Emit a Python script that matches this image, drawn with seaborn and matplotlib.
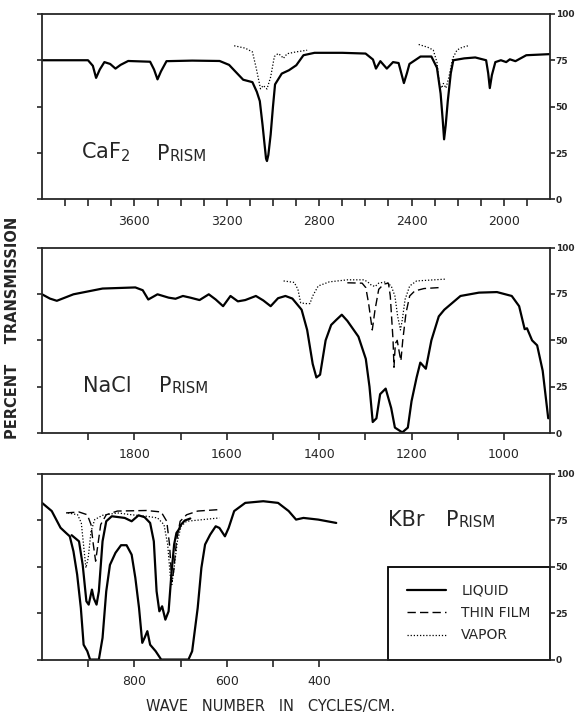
import pandas as pd
import matplotlib
matplotlib.use("Agg")
import matplotlib.pyplot as plt
from matplotlib.patches import Rectangle
from matplotlib.lines import Line2D
import seaborn as sns

# ---- CaF2 prism region ----
caf2_liq_wn = [4000, 3801, 3780, 3766, 3750, 3730, 3705, 3682, 3660, 3627, 3532, 3515, 3500, 3485,
               3461, 3350, 3231, 3190, 3168, 3129, 3089, 3070, 3057, 3045, 3038, 3030, 3026, 3020,
               3010, 3000, 2991, 2962, 2931, 2899, 2868, 2820, 2700, 2599, 2567, 2554, 2535, 2507,
               2480, 2456, 2440, 2433, 2420, 2409, 2361, 2314, 2290, 2274, 2265, 2259, 2252, 2243,
               2230, 2219, 2172, 2124, 2077, 2068, 2061, 2052, 2037, 2013, 1990, 1974, 1950, 1903, 1800]
caf2_liq_t = [75, 75, 72, 65.5, 70, 74, 73, 70.5, 72.5, 74.6, 74.2, 70, 64.7, 69,
              74.5, 74.8, 74.6, 72.5, 69.6, 64.5, 63.2, 58, 53, 40, 31.5, 22, 20.7, 24,
              35, 50, 62, 67.8, 69.6, 72.3, 77.7, 79, 79, 78.6, 75.4, 70.5, 74.5, 70.5,
              74, 73.5, 66, 62.7, 68, 73, 77, 77, 71, 57, 43, 32.4, 40, 53,
              68, 75, 76, 76.5, 75, 68, 60, 67, 74, 75, 74, 75.5, 74.5, 77.7, 78.3]
caf2_vap1_wn = [3168, 3120, 3089, 3073, 3054, 3042, 3026, 3010, 2994, 2978, 2965, 2955, 2939, 2900, 2852]
caf2_vap1_t = [82.8, 81.5, 79.5, 71, 59.6, 61.4, 59.5, 66, 77, 78.6, 77.5, 76, 78.5, 79.5, 80.4]
caf2_vap2_wn = [2369, 2330, 2306, 2290, 2279, 2269, 2262, 2251, 2238, 2222, 2203, 2180, 2148]
caf2_vap2_t = [83.5, 82, 80.5, 74, 62, 60, 62.5, 60, 66, 76, 80.5, 82, 83]

# ---- NaCl prism region ----
nacl_liq_wn = [2000, 1983, 1968, 1932, 1869, 1798, 1782, 1770, 1750, 1726, 1711, 1695, 1679, 1659,
               1639, 1624, 1608, 1592, 1576, 1560, 1537, 1521, 1505, 1489, 1473, 1458, 1438, 1426,
               1414, 1406, 1398, 1386, 1374, 1363, 1351, 1339, 1315, 1299, 1291, 1284, 1276, 1268,
               1256, 1244, 1236, 1220, 1208, 1200, 1189, 1181, 1169, 1157, 1141, 1129, 1094, 1054,
               1015, 983, 967, 955, 950, 939, 928, 916, 904]
nacl_liq_t = [74.8, 72.5, 71.3, 74.8, 77.9, 78.5, 77, 72, 74.8, 73, 72.4, 73.9, 73, 71.7,
              74.8, 72, 68.4, 73.9, 71, 71.7, 73.9, 71.5, 68.4, 72.7, 73.9, 72.5, 66.5, 55.6,
              37.3, 30, 31.5, 50, 58.3, 61, 63.8, 60.5, 52, 40, 25, 6, 8, 21,
              24, 13.5, 3, 0.4, 3, 17.2, 30, 38, 34.7, 50, 62.9, 66.5, 73.9, 75.7,
              76, 73.9, 68.4, 56, 56.5, 50, 47.3, 33.6, 8]
nacl_film_wn = [1339, 1307, 1299, 1293, 1285, 1279, 1271, 1260, 1250, 1246, 1240, 1238, 1235, 1231,
                1226, 1223, 1219, 1212, 1204, 1193, 1173, 1141]
nacl_film_t = [81, 80.8, 78.4, 70, 55.6, 66.5, 77.5, 80.3, 80.8, 73.9, 50, 35.5, 48.3, 50,
               42.8, 39, 50, 64.7, 73.9, 76.6, 77.9, 78.4]
nacl_vap_wn = [1477, 1454, 1446, 1440, 1430, 1420, 1414, 1402, 1378, 1339, 1303, 1295, 1287, 1279,
               1271, 1256, 1244, 1236, 1230, 1224, 1220, 1214, 1204, 1189, 1125]
nacl_vap_t = [82, 81.2, 77.5, 70.2, 69.8, 69.8, 73.9, 79.3, 81.5, 82.6, 82.6, 81.5, 79.7, 79,
              80.8, 81.5, 79.3, 73.9, 62.9, 55.6, 61, 72, 79.3, 82, 83]

# ---- KBr prism region ----
kbr_liq_wn = [1000, 979, 960, 948, 940, 932, 924, 916, 910, 902, 896, 877, 869, 861, 853, 841, 829,
              817, 806, 798, 790, 783, 778, 772, 766, 754, 742, 683, 675, 663, 655, 647, 636, 624,
              616, 604, 596, 584, 560, 521, 489, 466, 450, 434, 402, 363]
kbr_liq_t = [84.4, 80, 71, 68.2, 66.4, 58.3, 45.8, 27.8, 8, 4.5, 0, 0, 11.7, 36.8, 51, 57.5, 61.6,
             61.6, 56.5, 44, 27.8, 9, 11.7, 15.3, 8, 4.5, 0, 0, 4.5, 27.8, 49.4, 62, 67.3, 71.8,
             70.9, 66.4, 70.9, 80, 84.4, 85.3, 84.4, 80, 75.4, 76.3, 75.4, 73.6]
kbr_liq2_wn = [936, 920, 912, 904, 899, 892, 888, 882, 877, 869, 861, 849, 821, 806, 791, 778, 766,
               758, 752, 746, 740, 733, 726, 720, 714, 709, 704, 699, 691, 679]
kbr_liq2_t = [67, 63.7, 51, 31.4, 29.6, 37.7, 33, 29.6, 36.8, 63.7, 74.5, 77.2, 76.3, 74.5, 77.7,
              76.7, 73.6, 63.7, 36.8, 26, 28.7, 21.5, 26, 45.8, 62, 68.2, 70, 72.7, 74.9, 76]
kbr_film_wn = [948, 920, 902, 894, 889, 884, 879, 873, 861, 837, 774, 742, 730, 724, 719, 715, 709,
               701, 687, 663, 616]
kbr_film_t = [79, 79.5, 78, 72.7, 62, 53, 62, 72.7, 78, 80, 80.3, 79.5, 74.5, 62, 42, 47.6, 63.7,
              74.5, 78, 80, 80.8]
kbr_vap_wn = [944, 923, 915, 908, 905, 900, 894, 886, 869, 837, 806, 774, 750, 736, 728, 722, 719,
              714, 707, 699, 687, 616]
kbr_vap_t = [79, 78, 73.6, 56.5, 49.4, 54.8, 69, 75.4, 77.7, 79, 78, 77.2, 76.3, 72.7, 62, 44, 40.4,
             49.4, 63.7, 71.8, 74.5, 76.3]

styles = {"liquid": dict(linestyle="-", linewidth=1.6),
          "film": dict(linestyle=(0, (6, 3)), linewidth=1.0),
          "vapor": dict(linestyle=(0, (1, 1.5)), linewidth=0.9)}

sns.set_style("ticks")
plt.rcParams["font.family"] = ["DejaVu Sans"]

fig = plt.figure(figsize=(5.76, 7.28), dpi=100)
left, width, height = 0.073, 0.882, 0.255
axes = [fig.add_axes([left, 0.726, width, height]),
        fig.add_axes([left, 0.405, width, height]),
        fig.add_axes([left, 0.094, width, height])]


def curve(ax, wn, t, kind):
    df = pd.DataFrame({"wn": wn, "t": t})
    sns.lineplot(data=df, x="wn", y="t", ax=ax, color="black", sort=False,
                 estimator=None, **styles[kind])


def frame(ax, xlim, ticks, labelled):
    ax.set_xlim(*xlim)
    ax.set_ylim(0, 100)
    ax.set_xticks(ticks)
    ax.set_xticklabels([str(t) if t in labelled else "" for t in ticks], fontsize=9)
    ax.set_yticks([0, 25, 50, 75, 100])
    ax.set_yticklabels(["0", "25", "50", "75", "100"], fontsize=6.5, fontweight="bold")
    ax.tick_params(axis="y", left=True, right=True, labelleft=False, labelright=True,
                   direction="out", length=3.5, width=1.2, pad=0.5)
    ax.tick_params(axis="x", direction="out", length=5, width=1.2, pad=6)
    for s in ax.spines.values():
        s.set_visible(True)
        s.set_linewidth(1.3)
    ax.set_xlabel("")
    ax.set_ylabel("")


def prism_label(ax, x, y, name, size=15):
    ax.text(x, y, name, transform=ax.transAxes, fontsize=size, va="bottom", ha="left")
    t = ax.text(x + (0.151 if len(name) > 3 else 0.115), y, "P", transform=ax.transAxes,
                fontsize=size, va="bottom", ha="left")
    ax.annotate("RISM", xy=(1, 0), xycoords=t, fontsize=size * 0.72, va="bottom", ha="left")


ax = axes[0]
curve(ax, caf2_liq_wn, caf2_liq_t, "liquid")
curve(ax, caf2_vap1_wn, caf2_vap1_t, "vapor")
curve(ax, caf2_vap2_wn, caf2_vap2_t, "vapor")
frame(ax, (4000, 1800), list(range(3900, 1800, -100)), [3600, 3200, 2800, 2400, 2000])
prism_label(ax, 0.076, 0.19, "CaF$_2$")

ax = axes[1]
curve(ax, nacl_liq_wn, nacl_liq_t, "liquid")
curve(ax, nacl_film_wn, nacl_film_t, "film")
curve(ax, nacl_vap_wn, nacl_vap_t, "vapor")
frame(ax, (2000, 900), list(range(1900, 900, -100)), [1800, 1600, 1400, 1200, 1000])
prism_label(ax, 0.08, 0.2, "NaCl")

ax = axes[2]
curve(ax, kbr_liq_wn, kbr_liq_t, "liquid")
curve(ax, kbr_liq2_wn, kbr_liq2_t, "liquid")
curve(ax, kbr_film_wn, kbr_film_t, "film")
curve(ax, kbr_vap_wn, kbr_vap_t, "vapor")
frame(ax, (1000, -100), list(range(900, 300, -100)), [800, 600, 400])
prism_label(ax, 0.68, 0.7, "KBr")

ax.add_patch(Rectangle((0.68, 0), 0.32, 0.5, transform=ax.transAxes, fill=False,
                       linewidth=1.3, edgecolor="black", clip_on=False))
handles = [Line2D([], [], color="black", **styles[k]) for k in ["liquid", "film", "vapor"]]
ax.legend(handles, ["LIQUID", "THIN FILM", "VAPOR"], loc="center",
          bbox_to_anchor=(0.68, 0, 0.32, 0.5), bbox_transform=ax.transAxes,
          frameon=False, fontsize=10, handlelength=2.8, handletextpad=1.1,
          labelspacing=0.6)

fig.text(0.022, 0.55, "PERCENT    TRANSMISSION", rotation=90, ha="center", va="center",
         fontsize=10.5, fontweight="bold")
fig.text(0.47, 0.03, "WAVE   NUMBER   IN   CYCLES/CM.", ha="center", va="center", fontsize=10.5)

fig.savefig("out.png", dpi=100)
